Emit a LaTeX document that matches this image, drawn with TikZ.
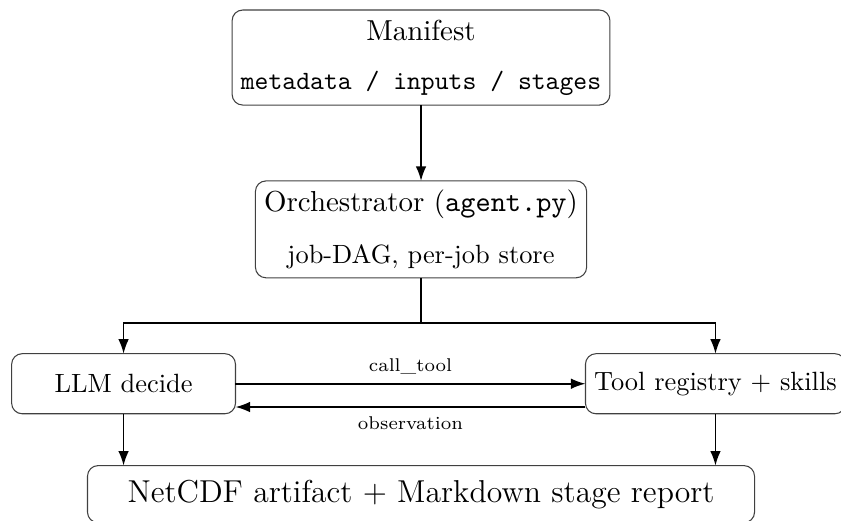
\documentclass[tikz,border=0pt]{standalone}
\usetikzlibrary{positioning,arrows.meta}

\newcommand{\headfont}{\fontsize{10.95}{13}\selectfont}

\begin{document}
\begin{tikzpicture}[
    box/.style={draw=black!75, rounded corners=4pt, align=center,
        inner sep=3.3pt, outer sep=0pt},
    flow/.style={-{Latex[length=5.5pt,width=4pt]}, line width=0.6pt},
    lbl/.style={font=\scriptsize},
    node distance=1.01cm,
    ]
    \useasboundingbox (0,0) rectangle (11.196,-6.936);
    \node[box, minimum width=5.0cm, minimum height=1.265cm] (manifest) at (5.605,-0.766)
        {{\headfont Manifest}\\[6.5pt] \texttt{metadata / inputs / stages}};
    \node[box, minimum width=4.39cm, minimum height=1.29cm, below=of manifest] (orch)
        {{\headfont Orchestrator (\texttt{agent.py})}\\[7.5pt] job-DAG, per-job store};
    \node[box, minimum width=2.98cm, minimum height=0.8cm, below=of orch, xshift=-3.96cm] (llm) {LLM decide};
    \node[box, minimum height=0.8cm, below=of orch, xshift=3.92cm] (tool) {Tool registry $+$ skills};
    \node[box, minimum width=8.88cm, minimum height=0.76cm, anchor=north, yshift=-0.69cm, font=\large]
        (out) at (orch |- llm.south) {NetCDF artifact $+$ Markdown stage report};

    \draw[flow] (manifest) -- (orch);
    \draw[line width=0.6pt] (orch.south) -- ++(0,-0.6) coordinate (split);
    \draw[flow] (split) -| (llm.north);
    \draw[flow] (split) -| (tool.north);
    \draw[flow] (llm.east) -- node[lbl, above] {call\_tool} (llm.east -| tool.west);
    \draw[flow] ([yshift=-0.31cm]tool.west) -- node[lbl, below] {observation} ([yshift=-0.31cm]tool.west -| llm.east);
    \draw[flow] (llm.south) -- (llm.south |- out.north);
    \draw[flow] (tool.south) -- (tool.south |- out.north);
\end{tikzpicture}
\end{document}
